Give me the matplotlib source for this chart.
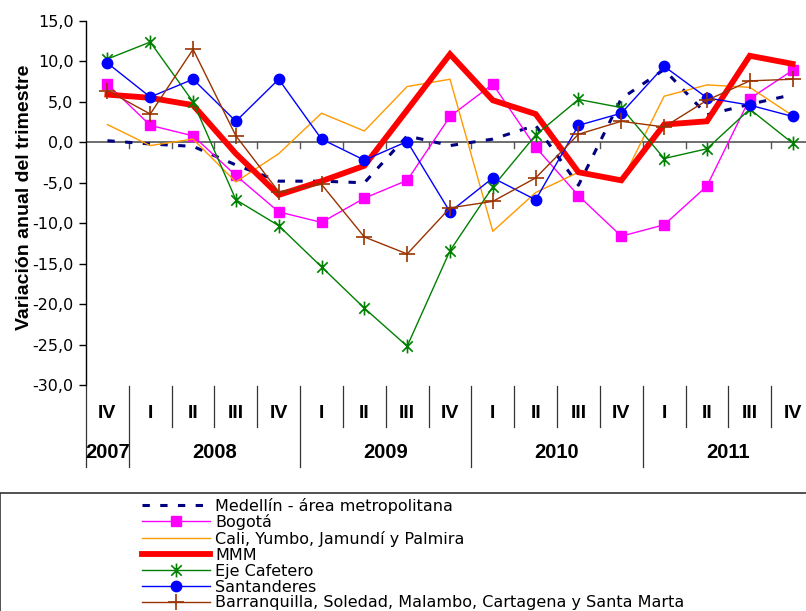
import matplotlib
matplotlib.use("Agg")
import matplotlib.pyplot as plt
from matplotlib.transforms import blended_transform_factory
from matplotlib.patches import Rectangle
from matplotlib.lines import Line2D
from matplotlib.path import Path
from matplotlib.ticker import FuncFormatter
import numpy as np

plt.rcParams['font.family'] = ['Liberation Sans', 'DejaVu Sans']

quarters = ["IV", "I", "II", "III", "IV", "I", "II", "III", "IV",
            "I", "II", "III", "IV", "I", "II", "III", "IV"]
years = ["2007", "2008", "2009", "2010", "2011"]
year_spans = [(0, 0), (1, 4), (5, 8), (9, 12), (13, 16)]

medellin = [0.2, -0.2, -0.5, -2.8, -4.8, -4.8, -5.0, 0.8, -0.4, 0.4, 2.1, -5.3, 5.4, 9.0, 3.4, 4.7, 5.9]
bogota = [7.2, 2.1, 0.8, -4.1, -8.6, -9.9, -6.9, -4.7, 3.2, 7.2, -0.6, -6.6, -11.6, -10.2, -5.4, 5.4, 8.9]
cali = [2.2, -0.4, 0.4, -4.9, -1.4, 3.6, 1.4, 6.9, 7.8, -11.0, -6.2, -3.7, -4.9, 5.7, 7.1, 6.8, 3.3]
mmm = [5.9, 5.5, 4.6, -1.4, -6.5, -4.8, -2.9, 4.0, 10.9, 5.2, 3.5, -3.7, -4.7, 2.2, 2.6, 10.7, 9.7]
eje = [10.3, 12.4, 5.0, -7.1, -10.3, -15.4, -20.5, -25.2, -13.4, -5.5, 0.9, 5.3, 4.3, -2.0, -0.8, 4.1, -0.1]
santanderes = [9.8, 5.6, 7.8, 2.6, 7.8, 0.4, -2.2, 0.1, -8.6, -4.4, -7.1, 2.1, 3.6, 9.4, 5.5, 4.6, 3.2]
barranquilla = [6.4, 3.5, 11.5, 0.8, -6.1, -5.2, -11.7, -13.8, -8.1, -7.3, -4.4, 1.0, 2.6, 1.9, 5.2, 7.6, 7.8]

labels = ["Medellín - área metropolitana", "Bogotá", "Cali, Yumbo, Jamundí y Palmira",
          "MMM", "Eje Cafetero", "Santanderes",
          "Barranquilla, Soledad, Malambo, Cartagena y Santa Marta"]

W, H = 806, 611
fig = plt.figure(figsize=(W / 100, H / 100), dpi=100)
fig.patch.set_facecolor("white")

ax_l, ax_r, ax_t, ax_b = 86, 814, 21, 385
ax = fig.add_axes([ax_l / W, 1 - ax_b / H, (ax_r - ax_l) / W, (ax_b - ax_t) / H])

asterisk = Path([(0, -1), (0, 1), (-0.75, -0.75), (0.75, 0.75), (-0.75, 0.75), (0.75, -0.75)],
                [Path.MOVETO, Path.LINETO, Path.MOVETO, Path.LINETO, Path.MOVETO, Path.LINETO])

x = np.arange(len(quarters))
series = [medellin, bogota, cali, mmm, eje, santanderes, barranquilla]
styles = [
    dict(color="#000080", lw=2.2, linestyle=(0, (2.4, 3.4))),
    dict(color="#FF00FF", lw=1.0, marker="s", ms=7, mec="#FF00FF", mfc="#FF00FF"),
    dict(color="#FF9900", lw=1.0),
    dict(color="#FF0000", lw=4.2, solid_joinstyle="miter"),
    dict(color="#008000", lw=1.0, marker=asterisk, ms=10, mew=1.2, mec="#008000"),
    dict(color="#0000FF", lw=1.0, marker="o", ms=7.5, mec="#0000FF", mfc="#0000FF"),
    dict(color="#993300", lw=1.0, marker="+", ms=12, mew=1.2),
]
for s, lab, st in zip(series, labels, styles):
    ax.plot(x, s, label=lab, **st)

ax.set_xlim(-0.5, len(quarters) - 0.5)
ax.set_ylim(-30, 15)
ax.set_yticks(np.arange(-30, 16, 5))
ax.yaxis.set_major_formatter(FuncFormatter(lambda v, p: f"{v:.1f}".replace(".", ",")))
ax.tick_params(axis="y", direction="out", length=5, width=1, pad=4)
for t in ax.get_yticklabels():
    t.set_fontfamily("DejaVu Sans")
    t.set_fontsize(11.5)
ax.set_xticks([])
for sp in ["top", "right", "bottom"]:
    ax.spines[sp].set_visible(False)
ax.spines["left"].set_linewidth(1)

# zero axis line with ticks
ax.axhline(0, color="#555555", lw=1.2, zorder=1)
for b in np.arange(0.5, len(quarters) - 0.5, 1.0):
    ax.plot([b, b], [0, -0.7], color="#555555", lw=1, zorder=1)

ax.set_ylabel("Variación anual del trimestre", fontsize=14, fontweight="bold")
ax.yaxis.set_label_coords((33 - ax_l) / (ax_r - ax_l), (ax_b - 197) / (ax_b - ax_t))

# category labels below
def fy(py):
    return (ax_b - py) / (ax_b - ax_t)

tr = blended_transform_factory(ax.transData, ax.transAxes)
for i, q in enumerate(quarters):
    ax.text(i, fy(413), q, transform=tr, ha="center", va="center",
            fontsize=14, fontweight="bold", clip_on=False)
for (a, b), yr in zip(year_spans, years):
    ax.text((a + b) / 2, fy(453), yr, transform=tr, ha="center", va="center",
            fontsize=14.5, fontweight="bold", clip_on=False)

year_bounds = [-0.5, 0.5, 4.5, 8.5, 12.5]
for b in np.arange(-0.5, len(quarters), 1.0):
    end = fy(467) if b in year_bounds else fy(427)
    ax.plot([b, b], [fy(386), end], transform=tr, color="#333333", lw=0.9, clip_on=False)

# legend frame and entries
fig.patches.append(Rectangle((0, -0.01), 1.01, 1.01 - 493 / H, transform=fig.transFigure,
                             fill=False, edgecolor="#333333", lw=1.2))
row_y = [505, 521, 537.5, 553.5, 570, 586, 601.5]
x0, x1, xt = 142, 210, 215
for st, lab, py in zip(styles, labels, row_y):
    yy = 1 - py / H
    st2 = {k: v for k, v in st.items() if k not in ("marker", "ms", "mew", "mec", "mfc")}
    fig.add_artist(Line2D([x0 / W, x1 / W], [yy, yy], transform=fig.transFigure, **st2))
    if "marker" in st:
        mk = {k: v for k, v in st.items() if k in ("marker", "ms", "mew", "mec", "mfc", "color")}
        fig.add_artist(Line2D([(x0 + x1) / 2 / W], [yy], transform=fig.transFigure,
                              linestyle="none", **mk))
    fig.text(xt / W, yy, lab, ha="left", va="center_baseline", fontsize=11.5,
             family=["DejaVu Sans"])

fig.savefig("out.png", dpi=100)
